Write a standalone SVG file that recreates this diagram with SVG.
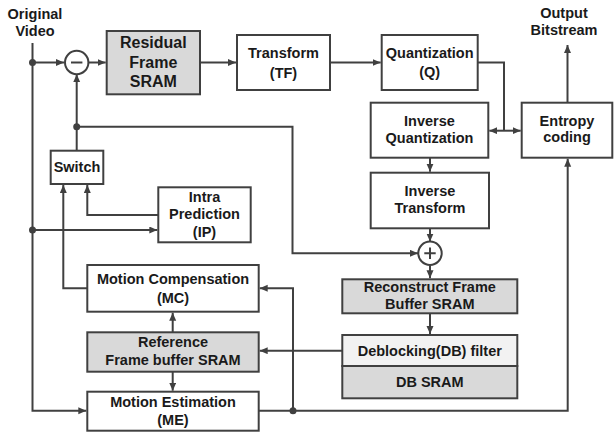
<svg xmlns="http://www.w3.org/2000/svg" width="614" height="434" viewBox="0 0 614 434">
  <style>
    .box { fill: #ffffff; stroke: #404040; stroke-width: 2; }
    .mem { fill: #d9d9d9; stroke: #404040; stroke-width: 2; }
    .light { fill: #f2f2f2; stroke: #404040; stroke-width: 2; }
    .op { fill: #ffffff; stroke: #404040; stroke-width: 2; }
    .sign { stroke: #404040; stroke-width: 2; fill: none; }
    .lbl { font-family: "Liberation Sans", Arial, sans-serif; font-weight: bold; font-size: 14.5px; fill: #1a1a1a; text-anchor: middle; }
    .big { font-size: 16px; }
    .wire { fill: none; stroke: #404040; stroke-width: 2; }
    .arr { marker-end: url(#head); }
    .dot { fill: #404040; }
  </style>
  <defs>
    <marker id="head" markerUnits="userSpaceOnUse" markerWidth="9" markerHeight="8" refX="8" refY="3.5" orient="auto">
      <path d="M0,0 L8,3.5 L0,7 z" fill="#404040"/>
    </marker>
  </defs>

  <!-- external input / output labels -->
  <g id="input-label">
    <text class="lbl" x="35" y="18.5">Original</text>
    <text class="lbl" x="35" y="36">Video</text>
  </g>
  <g id="output-label">
    <text class="lbl" x="564" y="18.3">Output</text>
    <text class="lbl" x="564" y="35">Bitstream</text>
  </g>

  <!-- signal flow -->
  <g id="connectors">
    <path class="wire arr" d="M32.5,43 V410.7 H86.3"/>
    <path class="wire arr" d="M32.5,62.5 H64"/>
    <path class="wire arr" d="M89,62.5 H105.7"/>
    <path class="wire arr" d="M200,62.5 H236"/>
    <path class="wire arr" d="M330,62.5 H380.7"/>
    <path class="wire" d="M478,62.5 H504 V130.7"/>
    <path class="wire arr" d="M504,130.7 H489.3"/>
    <path class="wire arr" d="M504,130.7 H520.7"/>
    <path class="wire arr" d="M567.5,102.7 V45"/>
    <path class="wire arr" d="M430,157.7 V171.7"/>
    <path class="wire arr" d="M430,228.3 V241.5"/>
    <path class="wire arr" d="M76.7,150.7 V74.2"/>
    <path class="wire arr" d="M76.7,126.7 H292.5 V253.3 H418"/>
    <path class="wire arr" d="M430,265.2 V278.3"/>
    <path class="wire arr" d="M430,313.3 V334"/>
    <path class="wire arr" d="M342.3,350.7 H259.7"/>
    <path class="wire arr" d="M172.7,332.3 V312.7"/>
    <path class="wire arr" d="M172.7,371.7 V390.7"/>
    <path class="wire arr" d="M258.7,410.7 H567.7 V158.7"/>
    <path class="wire arr" d="M293,410.7 V288.3 H259.7"/>
    <path class="wire arr" d="M32.5,230 H157.3"/>
    <path class="wire arr" d="M158.3,215 H87.3 V185"/>
    <path class="wire arr" d="M87.3,288.3 H63.3 V185"/>
    <circle class="dot" cx="32.5" cy="62.5" r="3.5"/>
    <circle class="dot" cx="76.7" cy="126.7" r="3.5"/>
    <circle class="dot" cx="32.5" cy="230" r="3.5"/>
    <circle class="dot" cx="293" cy="410.7" r="3.5"/>
  </g>

  <g id="subtract">
    <circle class="op" cx="76.7" cy="62.5" r="11.7"/>
    <path class="sign" d="M71,62.5 H82.4"/>
  </g>

  <g id="residual-sram">
    <rect class="mem" x="106.7" y="31" width="93.3" height="63.3"/>
    <text class="lbl big" x="153.3" y="48.4">Residual</text>
    <text class="lbl big" x="153.3" y="68.4">Frame</text>
    <text class="lbl big" x="153.3" y="87.4">SRAM</text>
  </g>

  <g id="transform">
    <rect class="box" x="237" y="35" width="93" height="55"/>
    <text class="lbl" x="283.5" y="58">Transform</text>
    <text class="lbl" x="283.5" y="77.7">(TF)</text>
  </g>

  <g id="quantization">
    <rect class="box" x="381.7" y="35" width="96" height="55"/>
    <text class="lbl" x="429.7" y="58.3">Quantization</text>
    <text class="lbl" x="429.7" y="76.7">(Q)</text>
  </g>

  <g id="inverse-quantization">
    <rect class="box" x="370.7" y="102.7" width="117.6" height="55"/>
    <text class="lbl" x="429.5" y="125.7">Inverse</text>
    <text class="lbl" x="429.5" y="143.3">Quantization</text>
  </g>

  <g id="entropy-coding">
    <rect class="box" x="521.7" y="102.7" width="90.6" height="55"/>
    <text class="lbl" x="567" y="125.7">Entropy</text>
    <text class="lbl" x="567" y="142.3">coding</text>
  </g>

  <g id="inverse-transform">
    <rect class="box" x="370.7" y="172.7" width="118.3" height="55.6"/>
    <text class="lbl" x="430" y="196">Inverse</text>
    <text class="lbl" x="430" y="213.3">Transform</text>
  </g>

  <g id="add">
    <circle class="op" cx="430" cy="253.3" r="11.7"/>
    <path class="sign" d="M424.3,253.3 H435.7 M430,247.6 V259"/>
  </g>

  <g id="switch">
    <rect class="box" x="50.7" y="150.7" width="52.6" height="33.3"/>
    <text class="lbl" x="77" y="171.7">Switch</text>
  </g>

  <g id="intra-prediction">
    <rect class="box" x="158.3" y="187.3" width="92.4" height="55"/>
    <text class="lbl" x="204.5" y="201.7">Intra</text>
    <text class="lbl" x="204.5" y="219">Prediction</text>
    <text class="lbl" x="204.5" y="236.7">(IP)</text>
  </g>

  <g id="motion-compensation">
    <rect class="box" x="87.3" y="265" width="171.4" height="46.7"/>
    <text class="lbl" x="173" y="284.3">Motion Compensation</text>
    <text class="lbl" x="173" y="302.7">(MC)</text>
  </g>

  <g id="reference-sram">
    <rect class="mem" x="87.3" y="332.3" width="171.4" height="39.4"/>
    <text class="lbl" x="173" y="347.3">Reference</text>
    <text class="lbl" x="173" y="365">Frame buffer SRAM</text>
  </g>

  <g id="motion-estimation">
    <rect class="box" x="87.3" y="391.7" width="171.4" height="39"/>
    <text class="lbl" x="173" y="406.7">Motion Estimation</text>
    <text class="lbl" x="173" y="425">(ME)</text>
  </g>

  <g id="reconstruct-sram">
    <rect class="mem" x="342.3" y="279.3" width="175" height="34"/>
    <text class="lbl" x="429.8" y="292.3">Reconstruct Frame</text>
    <text class="lbl" x="429.8" y="309">Buffer SRAM</text>
  </g>

  <g id="deblocking">
    <rect class="light" x="342.3" y="335" width="175" height="31"/>
    <rect class="mem" x="342.3" y="366" width="175" height="32.3"/>
    <text class="lbl" x="429.8" y="355.7">Deblocking(DB) filter</text>
    <text class="lbl" x="429.8" y="386.7">DB SRAM</text>
  </g>
</svg>
